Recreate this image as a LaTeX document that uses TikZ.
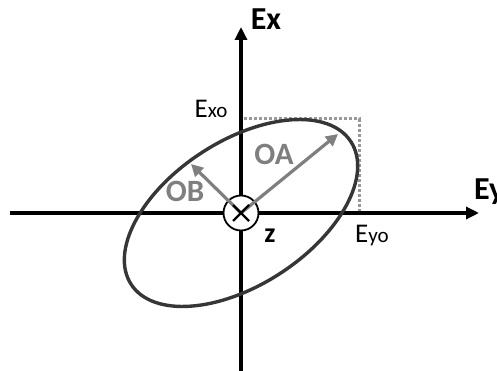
\documentclass[tikz,border=0pt]{standalone}
\usepackage{fontspec}
\setmainfont{Carlito}
\usetikzlibrary{arrows.meta,calc}
\definecolor{ellc}{HTML}{363636}
\definecolor{arrc}{HTML}{7F7F7F}
\definecolor{dotc}{HTML}{999999}
\begin{document}
\begin{tikzpicture}[x=1pt,y=-1pt,
  axis/.style={line width=3.4pt,-{Triangle[length=13pt,width=12pt]}},
  vec/.style={arrc,line width=3.2pt,-{Triangle[length=12pt,width=12pt]}},
  lbl/.style={inner sep=0pt}]
\useasboundingbox (0,0) rectangle (497,371);
\coordinate (O) at (241,213);
\coordinate (xs) at (10,213);
\coordinate (xe) at (479,213);
\coordinate (ys) at (241,375);
\coordinate (ye) at (241,27);
\coordinate (b1) at (244,119);
\coordinate (b2) at (359,119);
\coordinate (b3) at (359,213);
\coordinate (A) at (338,134);
\coordinate (B) at (191,164);
% dotted box
\draw[dotc,line width=3pt,dash pattern=on 3pt off 2pt] (b1) -- (b2) -- (b3);
% axes
\draw[axis] (xs) -- (xe);
\draw[axis] (ys) -- (ye);
% ellipse
\draw[ellc,line width=3.4pt,rotate around={33:(O)}] (O) ellipse [x radius=131, y radius=72];
% origin circle
\node[circle,draw,line width=1.8pt,fill=white,minimum size=35pt,inner sep=0pt] (c) at (O) {};
\draw[vec] (O) -- (A);
\draw[vec] (O) -- (B);
\draw[line width=2.4pt] ($(O)+(-8,-8)$) -- ($(O)+(8,8)$);
\draw[line width=2.4pt] ($(O)+(-8,8)$) -- ($(O)+(8,-8)$);
% labels
\node[lbl,font=\bfseries\fontsize{32}{32}\selectfont,anchor=base] (ex) at (266,30) {Ex};
\node[lbl,font=\bfseries\fontsize{32}{32}\selectfont,anchor=base west] (ey) at (474,200) {Ey};
\node[lbl,font=\fontsize{27}{27}\selectfont,anchor=base] (exo) at (211,118) {E\fontsize{21}{21}\selectfont xo};
\node[lbl,font=\fontsize{27}{27}\selectfont,anchor=base] (eyo) at (372,242) {E\fontsize{21}{21}\selectfont yo};
\node[lbl,font=\bfseries\fontsize{28}{28}\selectfont,anchor=base] (z) at (270,242) {z};
\node[lbl,text=arrc,font=\bfseries\fontsize{31}{31}\selectfont,anchor=base] (oa) at (274,165) {OA};
\node[lbl,text=arrc,font=\bfseries\fontsize{31}{31}\selectfont,anchor=base] (ob) at (185,202) {OB};
\end{tikzpicture}
\end{document}
